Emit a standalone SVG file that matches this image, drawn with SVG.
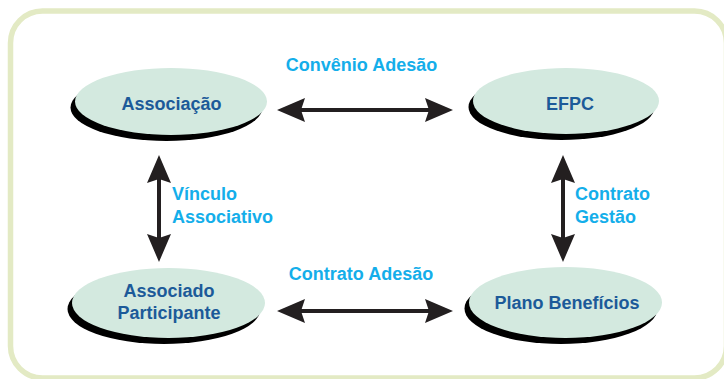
<svg xmlns="http://www.w3.org/2000/svg" width="724" height="379" viewBox="0 0 724 379">
  <defs>
    <style>
      .node-bg { fill: #d3e9df; }
      .node-shadow { fill: #000; }
      .node-text { font-family: "Liberation Sans", Arial, sans-serif; font-weight: bold; font-size: 18px; fill: #1c5a99; text-anchor: middle; }
      .label { font-family: "Liberation Sans", Arial, sans-serif; font-weight: bold; font-size: 18px; fill: #14aeea; }
      .conn { stroke: #231f20; stroke-width: 4; fill: none; marker-start: url(#head); marker-end: url(#head); }
    </style>
    <marker id="head" markerUnits="userSpaceOnUse" viewBox="0 0 28 24" markerWidth="28" markerHeight="24" refX="8" refY="12" orient="auto-start-reverse">
      <path d="M0,0 L28,12 L0,24 L4,12 Z" fill="#231f20"/>
    </marker>
  </defs>

  <rect x="10.5" y="11" width="716" height="367" rx="32" ry="32" fill="#fff" stroke="#e3eac4" stroke-width="5.5"/>

  <g id="connectors">
    <line class="conn" x1="297" y1="110" x2="433" y2="110"/>
    <line class="conn" x1="297" y1="311" x2="433" y2="311"/>
    <line class="conn" x1="159" y1="175" x2="159" y2="242"/>
    <line class="conn" x1="563" y1="175" x2="563" y2="242"/>
    <text class="label" x="361.5" y="70.5" text-anchor="middle">Convênio Adesão</text>
    <text class="label" x="361" y="279.5" text-anchor="middle">Contrato Adesão</text>
    <text class="label" x="172" y="200">Vínculo</text>
    <text class="label" x="172" y="223">Associativo</text>
    <text class="label" x="575" y="200">Contrato</text>
    <text class="label" x="575" y="223">Gestão</text>
  </g>

  <g id="associacao">
    <ellipse class="node-shadow" cx="166.5" cy="107.5" rx="96" ry="33.5"/>
    <ellipse class="node-bg" cx="171" cy="101.5" rx="96" ry="33.5"/>
    <text class="node-text" x="171.5" y="110">Associação</text>
  </g>

  <g id="efpc">
    <ellipse class="node-shadow" cx="561.5" cy="107" rx="93" ry="33"/>
    <ellipse class="node-bg" cx="566" cy="101" rx="93" ry="33"/>
    <text class="node-text" x="570" y="110">EFPC</text>
  </g>

  <g id="associado-participante">
    <ellipse class="node-shadow" cx="164" cy="309" rx="96.5" ry="35"/>
    <ellipse class="node-bg" cx="168.5" cy="303" rx="96.5" ry="35"/>
    <text class="node-text" x="169" y="297">Associado</text>
    <text class="node-text" x="169" y="319">Participante</text>
  </g>

  <g id="plano-beneficios">
    <ellipse class="node-shadow" cx="561" cy="308.5" rx="96.5" ry="35.5"/>
    <ellipse class="node-bg" cx="565.5" cy="302.5" rx="96.5" ry="35.5"/>
    <text class="node-text" x="567" y="309">Plano Benefícios</text>
  </g>
</svg>
